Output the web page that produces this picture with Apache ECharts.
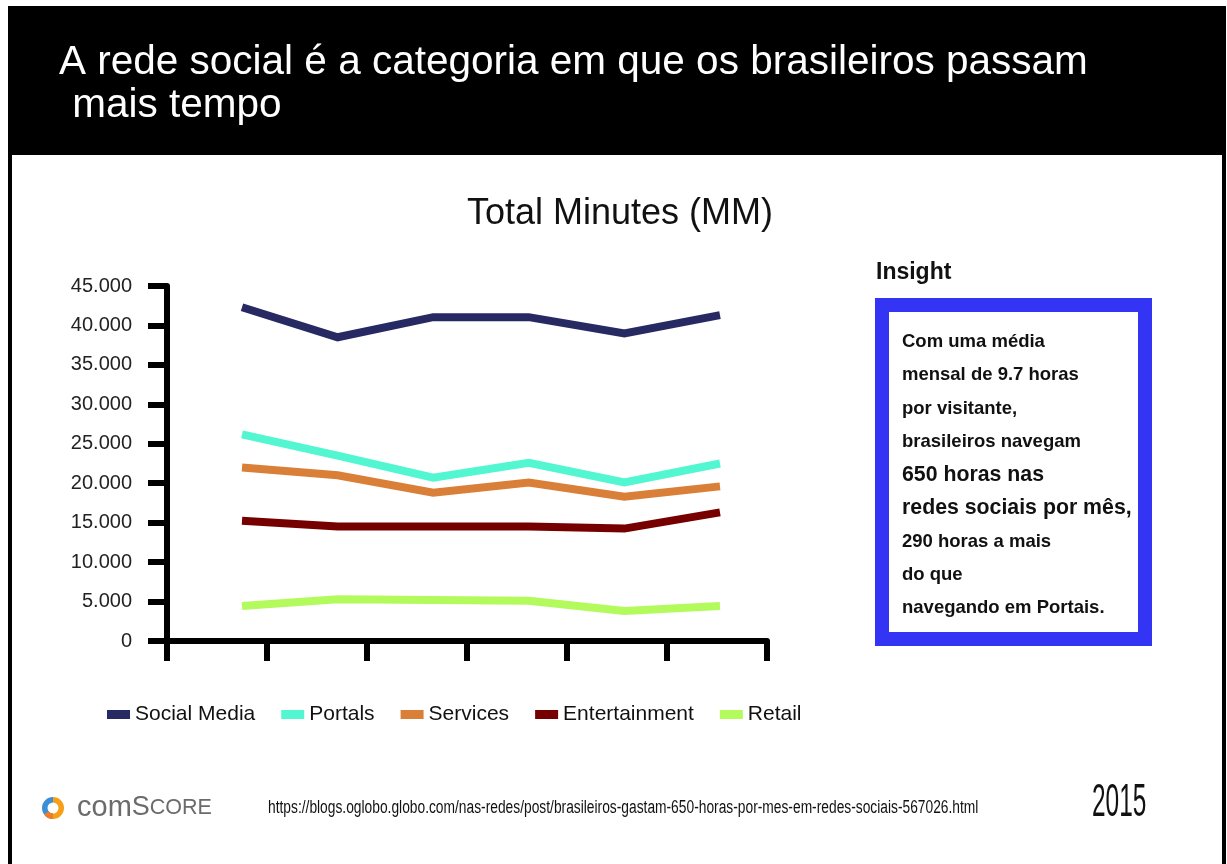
<!DOCTYPE html>
<html>
<head>
<meta charset="utf-8">
<script src="https://cdn.jsdelivr.net/npm/echarts@6/dist/echarts.min.js"></script>
<style>
  html, body { margin: 0; padding: 0; background: #fff; }
  #chart { width: 1227px; height: 864px; }
</style>
</head>
<body>
<div id="chart"></div>
<script>
// meses (sem rótulos no original)
const categories = ['M1', 'M2', 'M3', 'M4', 'M5', 'M6']
const seriesNames = ['Social Media', 'Portals', 'Services', 'Entertainment', 'Retail']

// Total Minutes (MM)
const socialMedia = [42300, 38500, 41050, 41050, 39000, 41300]
const portals = [26200, 23500, 20700, 22600, 20100, 22500]
const services = [22000, 21000, 18800, 20100, 18300, 19600]
const entertainment = [15250, 14500, 14500, 14500, 14250, 16300]
const retail = [4450, 5300, 5200, 5100, 3800, 4450]

const yTicks = [0, 5000, 10000, 15000, 20000, 25000, 30000, 35000, 40000, 45000]

const colors = ['#272a62', '#52f7d2', '#da7f38', '#760000', '#b3fb5c']

const insightLines = [
  { text: 'Com uma média', big: false },
  { text: 'mensal de 9.7 horas', big: false },
  { text: 'por visitante,', big: false },
  { text: 'brasileiros navegam', big: false },
  { text: '650 horas nas', big: true },
  { text: 'redes sociais por mês,', big: true },
  { text: '290 horas a mais', big: false },
  { text: 'do que', big: false },
  { text: 'navegando em Portais.', big: false }
]

const FONT = '"Liberation Sans", Arial, sans-serif'

const chart = echarts.init(document.getElementById('chart'))

const makeSeries = (name, data, i) => ({
  name,
  type: 'line',
  xAxisIndex: 1,
  yAxisIndex: 1,
  data,
  symbol: 'none',
  lineStyle: { width: 8, color: colors[i], cap: 'butt', join: 'miter' },
  itemStyle: { color: colors[i] }
})

// caixa do insight
const insightGraphics = [
  {
    type: 'text',
    style: { text: 'Insight', x: 876, y: 273, fill: '#111', fontSize: 23, fontWeight: 'bold', fontFamily: FONT, verticalAlign: 'middle' }
  },
  {
    type: 'rect',
    shape: { x: 882, y: 305, width: 263, height: 334 },
    style: { fill: 'none', stroke: '#3434f4', lineWidth: 14 }
  }
]
insightLines.forEach((line, i) => {
  insightGraphics.push({
    type: 'text',
    style: {
      text: line.text,
      x: 902,
      y: 342 + i * 33.3,
      fill: '#111',
      fontSize: line.big ? 21.3 : 18.5,
      fontWeight: 'bold',
      fontFamily: FONT,
      verticalAlign: 'middle'
    }
  })
})

const option = {
  backgroundColor: '#fff',
  animation: false,
  title: {
    text: 'Total Minutes (MM)',
    left: 462,
    top: 191,
    textStyle: { fontSize: 36, fontWeight: 'normal', color: '#111', fontFamily: FONT }
  },
  legend: {
    data: seriesNames,
    left: 107,
    top: 704,
    padding: 0,
    icon: 'rect',
    itemWidth: 23,
    itemHeight: 9,
    itemGap: 26,
    textStyle: { fontSize: 21, color: '#111', fontFamily: FONT }
  },
  grid: [
    { left: 167, right: 460, top: 286, bottom: 223 },
    { left: 242, right: 507, top: 286, bottom: 223 }
  ],
  xAxis: [
    {
      gridIndex: 0,
      type: 'category',
      data: categories,
      boundaryGap: true,
      axisLine: { show: true, lineStyle: { color: '#000', width: 6 } },
      axisTick: { show: true, length: 20, lineStyle: { color: '#000', width: 6 } },
      axisLabel: { show: false },
      splitLine: { show: false }
    },
    {
      gridIndex: 1,
      type: 'category',
      data: categories,
      boundaryGap: false,
      show: false
    }
  ],
  yAxis: [
    {
      gridIndex: 0,
      type: 'value',
      min: yTicks[0],
      max: yTicks[yTicks.length - 1],
      interval: 5000,
      axisLine: { show: true, lineStyle: { color: '#000', width: 6 } },
      axisTick: { show: true, length: 19, lineStyle: { color: '#000', width: 6 } },
      axisLabel: {
        margin: 35,
        fontSize: 20,
        color: '#222',
        fontFamily: FONT,
        formatter: (v) => (v === 0 ? '0' : (v / 1000) + '.000')
      },
      splitLine: { show: false }
    },
    {
      gridIndex: 1,
      type: 'value',
      min: yTicks[0],
      max: yTicks[yTicks.length - 1],
      show: false,
      splitLine: { show: false }
    }
  ],
  series: [
    makeSeries(seriesNames[0], socialMedia, 0),
    makeSeries(seriesNames[1], portals, 1),
    makeSeries(seriesNames[2], services, 2),
    makeSeries(seriesNames[3], entertainment, 3),
    makeSeries(seriesNames[4], retail, 4)
  ],
  graphic: [
    // moldura e cabeçalho
    {
      type: 'rect',
      shape: { x: 10, y: 8, width: 1214, height: 880 },
      style: { fill: 'none', stroke: '#000', lineWidth: 4 }
    },
    {
      type: 'rect',
      shape: { x: 8, y: 8, width: 1217, height: 147 },
      style: { fill: '#000' }
    },
    {
      type: 'text',
      style: { text: 'A rede social é a categoria em que os brasileiros passam', x: 59, y: 63, fill: '#fff', fontSize: 40.5, fontFamily: FONT, verticalAlign: 'middle' }
    },
    {
      type: 'text',
      style: { text: ' mais tempo', x: 61, y: 106, fill: '#fff', fontSize: 40.5, fontFamily: FONT, verticalAlign: 'middle' }
    },
    ...insightGraphics,
    // logo comScore
    {
      type: 'sector',
      shape: { cx: 53, cy: 808, r: 11, r0: 5.5, startAngle: Math.PI * 0.5, endAngle: Math.PI * 1.5 },
      style: { fill: '#3b8fd8' }
    },
    {
      type: 'sector',
      shape: { cx: 53, cy: 808, r: 11, r0: 5.5, startAngle: -Math.PI * 0.5, endAngle: Math.PI * 0.5 },
      style: { fill: '#f6a01a' }
    },
    {
      type: 'sector',
      shape: { cx: 53, cy: 808, r: 11, r0: 5.5, startAngle: Math.PI * 0.5, endAngle: Math.PI * 0.8 },
      style: { fill: '#ee7d2a' }
    },
    {
      type: 'text',
      style: {
        text: '{a|com}{b|S}{c|CORE}',
        x: 77,
        y: 808,
        verticalAlign: 'middle',
        rich: {
          a: { fontSize: 29, fill: '#6b6b6b', fontFamily: FONT },
          b: { fontSize: 27, fill: '#6b6b6b', fontFamily: FONT },
          c: { fontSize: 21.5, fill: '#6b6b6b', fontFamily: FONT }
        }
      }
    },
    {
      type: 'text',
      x: 268,
      y: 808,
      scaleX: 0.766,
      style: {
        text: 'https://blogs.oglobo.globo.com/nas-redes/post/brasileiros-gastam-650-horas-por-mes-em-redes-sociais-567026.html',
        x: 0,
        y: 0,
        fill: '#111',
        fontSize: 18,
        fontFamily: FONT,
        verticalAlign: 'middle'
      }
    },
    {
      type: 'text',
      x: 1092,
      y: 803,
      scaleX: 0.52,
      style: { text: '2015', x: 0, y: 0, fill: '#111', fontSize: 47, fontFamily: FONT, verticalAlign: 'middle' }
    }
  ]
}

chart.setOption(option)

window.addEventListener('resize', () => {
  chart.resize()
})
</script>
</body>
</html>
